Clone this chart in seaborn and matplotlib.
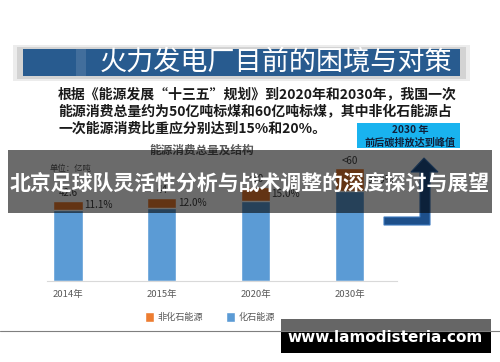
import matplotlib
matplotlib.use("Agg")
import matplotlib.pyplot as plt
import seaborn as sns
import pandas as pd
from matplotlib.patches import Rectangle, Polygon, Patch

# ---- data ----
years = ["2014年", "2015年", "2020年", "2030年"]
total = [42.6, 44.0, 50.0, 60.0]
nonfossil_pct = [11.1, 12.0, 15.0, 20.0]
value_labels = ["42.6", "44", "<50", "<60"]
pct_labels = ["11.1%", "12.0%", "15.0%", "20.0%"]
series_names = ["非化石能源", "化石能源"]

slide_title = "火力发电厂目前的困境与对策"
body_lines = [
    "根据《能源发展“十三五”规划》到2020年和2030年，我国一次",
    "能源消费总量约为50亿吨标煤和60亿吨标煤，其中非化石能源占",
    "一次能源消费比重应分别达到15%和20%。",
]
box_lines = ["2030 年", "前后碳排放达到峰值"]
chart_title = "能源消费总量及结构"
unit_label = "单位：亿吨"
overlay_title = "北京足球队灵活性分析与战术调整的深度探讨与展望"
watermark = "www.lamodisteria.com"

fossil = [t * (1 - p / 100) for t, p in zip(total, nonfossil_pct)]
df = pd.DataFrame({"year": years, "total": total, "fossil": fossil})

sns.set_theme(style="white")
plt.rcParams["font.family"] = ["Noto Sans CJK SC", "DejaVu Sans"]

ORANGE = "#ED7D31"
BLUE = "#5B9BD5"
GRAY = "#595959"

W, H = 500, 362
fig = plt.figure(figsize=(5, 3.62), dpi=100)
fig.patch.set_facecolor("white")

# ---- background slide layer ----
bg = fig.add_axes([0, 0, 1, 1], zorder=0)
bg.set_xlim(0, W)
bg.set_ylim(H, 0)
bg.axis("off")

bg.add_patch(Rectangle((13, 45), 457, 36, color="#9a9a9a", alpha=0.18, lw=0))
bg.add_patch(Rectangle((17, 47), 449, 32, color="#8a8a8a", alpha=0.25, lw=0))
bg.add_patch(Rectangle((23, 49), 437, 27, color="#285b8f", lw=0))
bg.add_patch(Rectangle((76, 49), 10, 27, color="white", alpha=0.12, lw=0))
bg.text(100, 62.5, slide_title, ha="left", va="center", fontsize=19.5,
        color="white")

for i, line in enumerate(body_lines):
    bg.text(58, [94, 112, 128.5][i], line, ha="left", va="center",
            fontsize=10, fontweight="bold", color="#1a1a1a")

bg.add_patch(Rectangle((357, 123), 103, 25, color="#19b3ef", lw=0))
bg.text(410, 130.5, box_lines[0], ha="center", va="center", fontsize=7.3,
        fontweight="bold", color="#10203a")
bg.text(410, 142.5, box_lines[1], ha="center", va="center", fontsize=7.3,
        fontweight="bold", color="#10203a")

arrow = Polygon([(384, 217), (420, 217), (420, 172), (411, 172), (424, 158),
                 (438, 172), (430, 172), (430, 225), (384, 225)],
                closed=True, facecolor="#1d4f8a", edgecolor="#3a78bd", lw=0.8)
bg.add_patch(arrow)

bg.text(202, 150.5, chart_title, ha="center", va="center", fontsize=8.4,
        fontweight="bold", color=GRAY)
bg.text(71, 168, unit_label, ha="center", va="center", fontsize=6,
        color=GRAY)

# ---- chart ----
ax = fig.add_axes([47 / W, (H - 280.5) / H, 350 / W, 130.5 / H], zorder=1)
ax.patch.set_alpha(0)
sns.barplot(data=df, x="year", y="total", color=ORANGE, width=0.31,
            saturation=1, errorbar=None, ax=ax)
sns.barplot(data=df, x="year", y="fossil", color=BLUE, width=0.31,
            saturation=1, errorbar=None, ax=ax)
ax.set_xlim(-0.224, 3.506)
ax.set_ylim(0, 130.5 / 1.87)
ax.set_xlabel("")
ax.set_ylabel("")
ax.set_yticks([])
for s in ["left", "top", "right"]:
    ax.spines[s].set_visible(False)
ax.spines["bottom"].set_color("#d9d9d9")
ax.spines["bottom"].set_linewidth(0.8)
ax.tick_params(axis="x", length=0, pad=6.5, labelsize=6.8, labelcolor=GRAY)

for i in range(len(years)):
    ax.annotate(value_labels[i], (i, total[i]), xytext=(0, 2),
                textcoords="offset points", ha="center", va="bottom",
                fontsize=7, color="#404040")
    mid = total[i] - total[i] * nonfossil_pct[i] / 200
    ax.annotate(pct_labels[i], (i + 0.155, mid), xytext=(1, 0),
                textcoords="offset points", ha="left", va="center",
                fontsize=7.2, color="#404040")

# ---- top overlay layer ----
top = fig.add_axes([0, 0, 1, 1], zorder=3)
top.set_xlim(0, W)
top.set_ylim(H, 0)
top.axis("off")
top.patch.set_alpha(0)

top.add_patch(Rectangle((8, 150), 484, 63, color="black", alpha=0.58, lw=0))
top.text(250, 183, overlay_title, ha="center", va="center", fontsize=15,
         fontweight="bold", color="white")

top.plot([0, 500], [331, 331], color="#7f7f7f", lw=0.8)
top.add_patch(Rectangle((281, 319), 210, 12, color="#666666", lw=0))
top.add_patch(Rectangle((281, 331), 210, 22, color="black", lw=0))
top.text(385, 338, watermark, ha="center", va="center", fontsize=11,
         fontweight="bold", color="white", family="DejaVu Sans")

fig.legend(handles=[Patch(facecolor=ORANGE), Patch(facecolor=BLUE)],
           labels=series_names, loc="center",
           bbox_to_anchor=(210 / W, (H - 317) / H), ncol=2, frameon=False,
           fontsize=6.6, handlelength=1.0, handleheight=1.2,
           handletextpad=0.4, columnspacing=2.4, labelcolor=GRAY)

fig.savefig("out.png", dpi=100)
